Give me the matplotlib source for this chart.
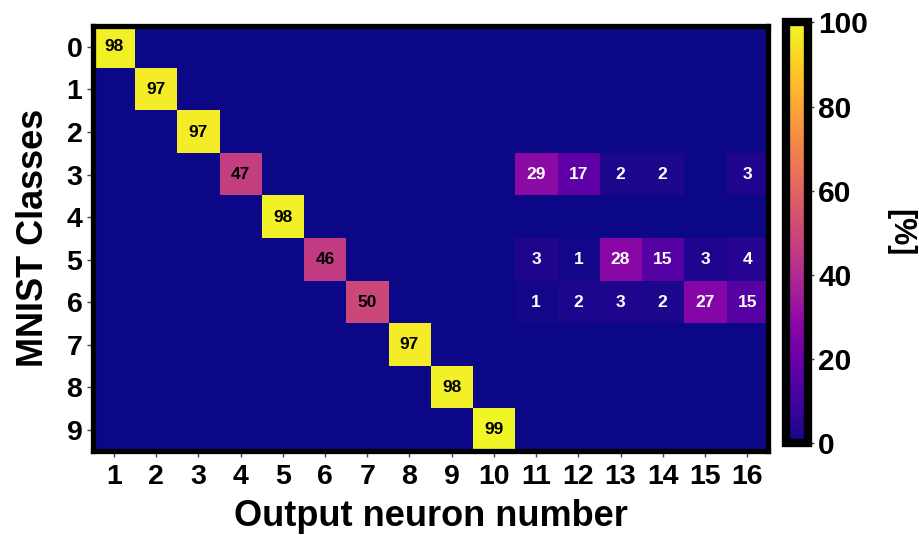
import numpy as np
import matplotlib
matplotlib.use('Agg')
import matplotlib.pyplot as plt

plt.rcParams['font.family'] = ['Liberation Sans', 'DejaVu Sans']
plt.rcParams['font.weight'] = 'bold'

classes = [0, 1, 2, 3, 4, 5, 6, 7, 8, 9]
neurons = list(range(1, 17))

# diagonal hits: class -> (neuron, percent)
diag_neuron = [1, 2, 3, 4, 5, 6, 7, 8, 9, 10]
diag_value = [98, 97, 97, 47, 98, 46, 50, 97, 98, 99]

# extra neurons 11..16 for classes 3, 5, 6 (0 = empty)
row3_extra = [29, 17, 2, 2, 0, 3]
row5_extra = [3, 1, 28, 15, 3, 4]
row6_extra = [1, 2, 3, 2, 27, 15]

data = np.zeros((len(classes), len(neurons)))
for c, n, v in zip(classes, diag_neuron, diag_value):
    data[c, n - 1] = v
data[3, 10:16] = row3_extra
data[5, 10:16] = row5_extra
data[6, 10:16] = row6_extra

fig = plt.figure(figsize=(9.19, 5.35), dpi=100)
ax = fig.add_axes([0.101, 0.157, 0.735, 0.795])
im = ax.imshow(data, cmap='plasma', vmin=0, vmax=100, aspect='auto',
               interpolation='nearest')

for i in range(data.shape[0]):
    for j in range(data.shape[1]):
        v = data[i, j]
        if v > 0:
            col = 'black' if v >= 40 else 'white'
            ax.text(j, i, f'{int(v)}', ha='center', va='center',
                    color=col, fontsize=12.5, fontweight='bold')

ax.set_xticks(range(len(neurons)))
ax.set_xticklabels([str(n) for n in neurons])
ax.set_yticks(range(len(classes)))
ax.set_yticklabels([str(c) for c in classes])
ax.tick_params(axis='both', labelsize=20.5, length=4, width=1, color='#444444')
ax.tick_params(axis='x', pad=5)
for lab in ax.get_xticklabels() + ax.get_yticklabels():
    lab.set_fontweight('bold')
ax.set_xlabel('Output neuron number', fontsize=26, fontweight='bold', labelpad=7)
ax.set_ylabel('MNIST Classes', fontsize=26, fontweight='bold', labelpad=11)
for s in ax.spines.values():
    s.set_linewidth(3.8)

cax = fig.add_axes([0.855, 0.172, 0.024, 0.786])
cb = fig.colorbar(im, cax=cax, ticks=[0, 20, 40, 60, 80, 100])
cb.outline.set_linewidth(6)
cax.tick_params(labelsize=21.5, length=4, width=1, color='#444444')
for lab in cax.get_yticklabels():
    lab.set_fontweight('bold')
cb.set_label('[%]', rotation=270, fontsize=22, fontweight='bold', labelpad=34)

fig.savefig('out.png', dpi=100)
